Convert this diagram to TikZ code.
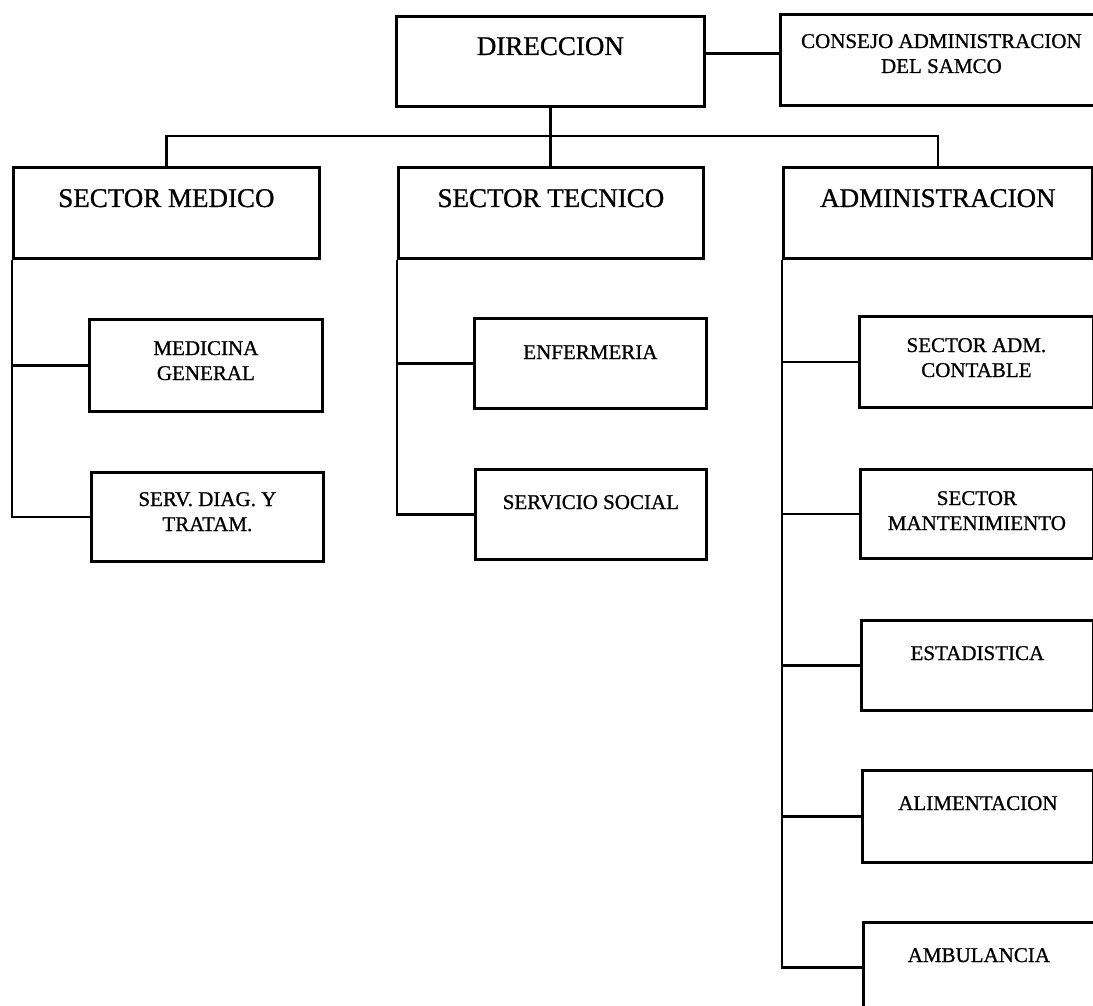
\documentclass[tikz,border=0pt]{standalone}
\usepackage{fontspec}
\setmainfont{Liberation Serif}[FakeBold=0.9]
\begin{document}
\begin{tikzpicture}[x=1pt,y=-1pt,
  box/.style={draw=black, line width=2.8pt, rectangle, inner sep=0pt, anchor=north west},
  wire/.style={draw=black, line width=2.8pt},
  big/.style={font=\fontsize{27}{30}\selectfont, anchor=base, inner sep=0pt},
  small/.style={font=\fontsize{21}{25}\selectfont, anchor=base, inner sep=0pt, align=center},
]
\useasboundingbox (0,0) rectangle (1093,1006);
\fill[white] (0,0) rectangle (1093,1006);
\clip (0,0) rectangle (1093,1006);

% top level
\node[box, minimum width=308pt, minimum height=90pt] (dir) at (395,15) {};
\node[box, minimum width=322pt, minimum height=91pt] (con) at (779,13) {};

% sectors
\node[box, minimum width=306pt, minimum height=91pt] (med) at (12,166) {};
\node[box, minimum width=305pt, minimum height=91pt] (tec) at (397,166) {};
\node[box, minimum width=309pt, minimum height=91pt] (adm) at (782,166) {};

% units of the medical sector
\node[box, minimum width=233pt, minimum height=92pt] (mg) at (88,318) {};
\node[box, minimum width=232pt, minimum height=89pt] (sdt) at (90,471) {};

% units of the technical sector
\node[box, minimum width=232pt, minimum height=90pt] (enf) at (473,317) {};
\node[box, minimum width=231pt, minimum height=90pt] (ss) at (474,468) {};

% units of the administration
\node[box, minimum width=234pt, minimum height=91pt] (sac) at (858,315) {};
\node[box, minimum width=233pt, minimum height=89pt] (sm) at (859,468) {};
\node[box, minimum width=232pt, minimum height=90pt] (est) at (860,619) {};
\node[box, minimum width=231pt, minimum height=92pt] (ali) at (861,769) {};
\node[box, minimum width=231pt, minimum height=90pt] (amb) at (862,921) {};

% labels (multi-line labels sit on the baseline of their last line)
\node[big] (dirT) at ([yshift=-40pt]dir.north) {DIRECCION};
\node[small] (conT) at ([yshift=-60pt]con.north) {CONSEJO ADMINISTRACION\\DEL SAMCO};
\node[big] (medT) at ([yshift=-41pt]med.north) {SECTOR MEDICO};
\node[big] (tecT) at ([yshift=-41pt]tec.north) {SECTOR TECNICO};
\node[big] (admT) at ([yshift=-41pt]adm.north) {ADMINISTRACION};
\node[small] (mgT) at ([yshift=-62pt]mg.north) {MEDICINA\\GENERAL};
\node[small] (sdtT) at ([yshift=-60pt]sdt.north) {SERV. DIAG. Y\\TRATAM.};
\node[small] (enfT) at ([yshift=-42pt]enf.north) {ENFERMERIA};
\node[small] (ssT) at ([yshift=-41pt]ss.north) {SERVICIO SOCIAL};
\node[small] (sacT) at ([yshift=-62pt]sac.north) {SECTOR ADM.\\CONTABLE};
\node[small] (smT) at ([yshift=-62pt]sm.north) {SECTOR\\MANTENIMIENTO};
\node[small] (estT) at ([yshift=-41pt]est.north) {ESTADISTICA};
\node[small] (aliT) at ([yshift=-41pt]ali.north) {ALIMENTACION};
\node[small] (ambT) at ([yshift=-41pt]amb.north) {AMBULANCIA};

% connectors
\coordinate (dc) at ([yshift=8pt]dir.east);
\draw[wire] (dc) -- (dc -| con.west);
\coordinate (bus) at (550,136);
\draw[wire] (med.north) |- (bus) -| (adm.north);
\draw[wire] (dir.south) -- (dir.south |- tec.north);

\draw[wire] (med.south west) |- (mg.west);
\draw[wire] (med.south west) |- (sdt.west);

\draw[wire] (tec.south west) |- (enf.west);
\draw[wire] (tec.south west) |- (ss.west);

\draw[wire] (adm.south west) |- (sac.west);
\draw[wire] (adm.south west) |- (sm.west);
\draw[wire] (adm.south west) |- (est.west);
\draw[wire] (adm.south west) |- (ali.west);
\draw[wire] (adm.south west) |- (amb.west);
\end{tikzpicture}
\end{document}
